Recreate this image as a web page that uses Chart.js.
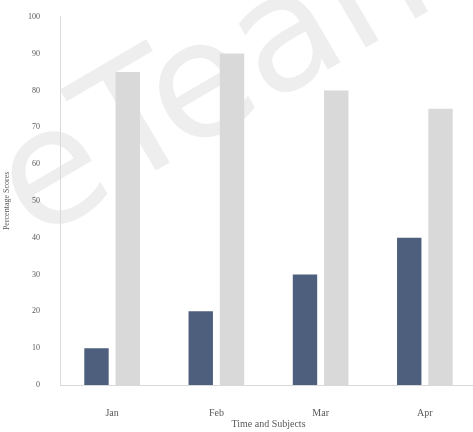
<!DOCTYPE html>
<html>
<head>
<meta charset="utf-8">
<script src="https://cdn.jsdelivr.net/npm/chart.js@4/dist/chart.umd.min.js"></script>
<style>
html,body{margin:0;padding:0;background:#fff;overflow:hidden;}
#wrap{width:480px;height:432px;position:relative;}
</style>
</head>
<body>
<div id="wrap"><canvas id="c" width="480" height="432" style="width:480px;height:432px"></canvas></div>
<script>
const categories = ['Jan', 'Feb', 'Mar', 'Apr'];
const seriesA = [10, 20, 30, 40];
const seriesB = [85, 90, 80, 75];
const yTicks = [0, 10, 20, 30, 40, 50, 60, 70, 80, 90, 100];

const watermark = {
  id: 'watermark',
  beforeDraw(chart) {
    const ctx = chart.ctx;
    ctx.save();
    ctx.translate(34, 242);
    ctx.rotate(-0.53);
    ctx.fillStyle = 'rgba(185,185,185,0.24)';
    ctx.font = '162px "DejaVu Sans"';
    ctx.textAlign = 'left';
    ctx.textBaseline = 'alphabetic';
    ctx.fillText('eTeam', 0, 0);
    ctx.restore();
  }
};

new Chart(document.getElementById('c'), {
  type: 'bar',
  data: {
    labels: categories,
    datasets: [
      { label: 'A', data: seriesA, backgroundColor: '#4e5f7d', categoryPercentage: 0.6, barPercentage: 0.78 },
      { label: 'B', data: seriesB, backgroundColor: '#d9d9d9', categoryPercentage: 0.6, barPercentage: 0.78 }
    ]
  },
  options: {
    responsive: false,
    animation: false,
    layout: { padding: { top: 10, right: 3, left: 0, bottom: 0 } },
    plugins: { legend: { display: false }, tooltip: { enabled: false } },
    scales: {
      x: {
        grid: { display: false },
        border: { display: true, color: '#d9d9d9', width: 1 },
        ticks: { color: '#595959', font: { family: 'Liberation Serif', size: 10 }, padding: 14 },
        title: { display: true, text: 'Time and Subjects', color: '#595959', font: { family: 'Liberation Serif', size: 10 }, padding: { top: 4, bottom: 2 } },
        afterFit(s) { s.height = 47; }
      },
      y: {
        min: 0, max: 100,
        afterBuildTicks(s) { s.ticks = yTicks.map(v => ({ value: v })); },
        grid: { display: false },
        border: { display: true, color: '#d9d9d9', width: 1 },
        ticks: { color: '#595959', font: { family: 'Liberation Serif', size: 8 }, padding: 12 },
        title: { display: true, text: 'Percentage Scores', color: '#595959', font: { family: 'Liberation Serif', size: 8 }, padding: { top: 2, bottom: 0 } },
        afterFit(s) { s.width = 60; }
      }
    }
  },
  plugins: [watermark]
});
</script>
</body>
</html>
